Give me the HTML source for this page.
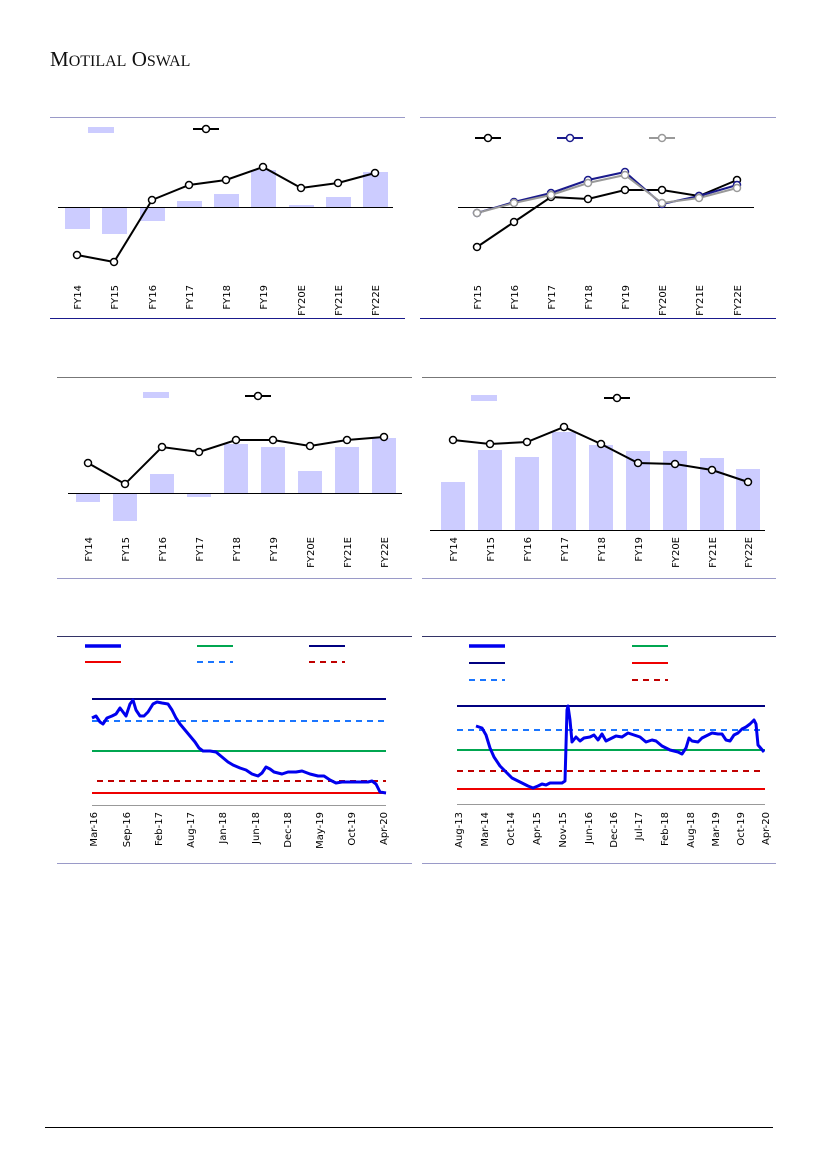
<!DOCTYPE html>
<html><head><meta charset="utf-8"><style>
html,body{margin:0;padding:0;background:#fff}
svg{display:block}
text{font-family:"DejaVu Sans","Liberation Sans",sans-serif;font-size:10px;fill:#000}
</style></head><body>
<svg width="827" height="1169" viewBox="0 0 827 1169" xmlns="http://www.w3.org/2000/svg">
<text x="50" y="66" style="font-family:'Liberation Serif',serif;font-size:21px;fill:#111">M<tspan style="font-size:16px">OTILAL</tspan> O<tspan style="font-size:16px">SWAL</tspan></text>

<g stroke-width="1">
<line x1="50" y1="117.5" x2="405" y2="117.5" stroke="#9a9ac8"/>
<line x1="50" y1="318.5" x2="405" y2="318.5" stroke="#1a1a8c"/>
<line x1="420" y1="117.5" x2="776" y2="117.5" stroke="#9a9ac8"/>
<line x1="420" y1="318.5" x2="776" y2="318.5" stroke="#1a1a8c"/>
<line x1="57" y1="377.5" x2="412" y2="377.5" stroke="#777"/>
<line x1="57" y1="578.5" x2="412" y2="578.5" stroke="#9a9ac8"/>
<line x1="422" y1="377.5" x2="776" y2="377.5" stroke="#777"/>
<line x1="422" y1="578.5" x2="776" y2="578.5" stroke="#9a9ac8"/>
<line x1="57" y1="636.5" x2="412" y2="636.5" stroke="#333366"/>
<line x1="57" y1="863.5" x2="412" y2="863.5" stroke="#9a9ac8"/>
<line x1="422" y1="636.5" x2="776" y2="636.5" stroke="#333366"/>
<line x1="422" y1="863.5" x2="776" y2="863.5" stroke="#9a9ac8"/>
<line x1="45" y1="1127.5" x2="773" y2="1127.5" stroke="#000"/>
</g>

<!-- Chart 1 -->
<g fill="#ccccff">
<rect x="88" y="127" width="26" height="6"/>
<rect x="65" y="207" width="25" height="22"/>
<rect x="102" y="207" width="25" height="27"/>
<rect x="140" y="207" width="25" height="14"/>
<rect x="177" y="201" width="25" height="6"/>
<rect x="214" y="194" width="25" height="13"/>
<rect x="251" y="170" width="25" height="37"/>
<rect x="289" y="205" width="25" height="2"/>
<rect x="326" y="197" width="25" height="10"/>
<rect x="363" y="172" width="25" height="35"/>
</g>
<line x1="58" y1="207.5" x2="393" y2="207.5" stroke="#000"/>
<g stroke="#000" stroke-width="2" fill="none">
<line x1="193" y1="129" x2="219" y2="129"/>
<polyline points="77,255 114,262 152,200 189,185 226,180 263,167 301,188 338,183 375,173"/>
</g>
<g stroke="#000" stroke-width="1.5" fill="#fff">
<circle cx="206" cy="129" r="3.5"/>
<circle cx="77" cy="255" r="3.5"/><circle cx="114" cy="262" r="3.5"/><circle cx="152" cy="200" r="3.5"/><circle cx="189" cy="185" r="3.5"/><circle cx="226" cy="180" r="3.5"/><circle cx="263" cy="167" r="3.5"/><circle cx="301" cy="188" r="3.5"/><circle cx="338" cy="183" r="3.5"/><circle cx="375" cy="173" r="3.5"/>
</g>
<g text-anchor="end">
<text transform="translate(81,285) rotate(-90)">FY14</text>
<text transform="translate(118,285) rotate(-90)">FY15</text>
<text transform="translate(156,285) rotate(-90)">FY16</text>
<text transform="translate(193,285) rotate(-90)">FY17</text>
<text transform="translate(230,285) rotate(-90)">FY18</text>
<text transform="translate(267,285) rotate(-90)">FY19</text>
<text transform="translate(305,285) rotate(-90)">FY20E</text>
<text transform="translate(342,285) rotate(-90)">FY21E</text>
<text transform="translate(379,285) rotate(-90)">FY22E</text>
</g>

<!-- Chart 2 -->
<line x1="458" y1="207.5" x2="754" y2="207.5" stroke="#000"/>
<g stroke-width="2" fill="none">
<line x1="475" y1="138" x2="501" y2="138" stroke="#000"/>
<line x1="557" y1="138" x2="583" y2="138" stroke="#1a1a8c"/>
<line x1="649" y1="138" x2="675" y2="138" stroke="#999"/>
<polyline stroke="#000" points="477,247 514,222 551,197 588,199 625,190 662,190 699,196 737,180"/>
<polyline stroke="#1a1a8c" points="477,213 514,202 551,193 588,180 625,172 662,204 699,196 737,185"/>
<polyline stroke="#999" points="477,213 514,203 551,195 588,183 625,175 662,203 699,198 737,188"/>
</g>
<g stroke-width="1.5" fill="#fff">
<g stroke="#000"><circle cx="488" cy="138" r="3.5"/>
<circle cx="477" cy="247" r="3.5"/><circle cx="514" cy="222" r="3.5"/><circle cx="551" cy="197" r="3.5"/><circle cx="588" cy="199" r="3.5"/><circle cx="625" cy="190" r="3.5"/><circle cx="662" cy="190" r="3.5"/><circle cx="699" cy="196" r="3.5"/><circle cx="737" cy="180" r="3.5"/></g>
<g stroke="#1a1a8c"><circle cx="570" cy="138" r="3.5"/>
<circle cx="477" cy="213" r="3.5"/><circle cx="514" cy="202" r="3.5"/><circle cx="551" cy="193" r="3.5"/><circle cx="588" cy="180" r="3.5"/><circle cx="625" cy="172" r="3.5"/><circle cx="662" cy="204" r="3.5"/><circle cx="699" cy="196" r="3.5"/><circle cx="737" cy="185" r="3.5"/></g>
<g stroke="#999"><circle cx="662" cy="138" r="3.5"/>
<circle cx="477" cy="213" r="3.5"/><circle cx="514" cy="203" r="3.5"/><circle cx="551" cy="195" r="3.5"/><circle cx="588" cy="183" r="3.5"/><circle cx="625" cy="175" r="3.5"/><circle cx="662" cy="203" r="3.5"/><circle cx="699" cy="198" r="3.5"/><circle cx="737" cy="188" r="3.5"/></g>
</g>
<g text-anchor="end">
<text transform="translate(481,285) rotate(-90)">FY15</text>
<text transform="translate(518,285) rotate(-90)">FY16</text>
<text transform="translate(555,285) rotate(-90)">FY17</text>
<text transform="translate(592,285) rotate(-90)">FY18</text>
<text transform="translate(629,285) rotate(-90)">FY19</text>
<text transform="translate(666,285) rotate(-90)">FY20E</text>
<text transform="translate(703,285) rotate(-90)">FY21E</text>
<text transform="translate(741,285) rotate(-90)">FY22E</text>
</g>

<!-- Chart 3 -->
<g fill="#ccccff">
<rect x="143" y="392" width="26" height="6"/>
<rect x="76" y="493" width="24" height="9"/>
<rect x="113" y="493" width="24" height="28"/>
<rect x="150" y="474" width="24" height="19"/>
<rect x="187" y="493" width="24" height="4"/>
<rect x="224" y="444" width="24" height="49"/>
<rect x="261" y="447" width="24" height="46"/>
<rect x="298" y="471" width="24" height="22"/>
<rect x="335" y="447" width="24" height="46"/>
<rect x="372" y="438" width="24" height="55"/>
</g>
<line x1="68" y1="493.5" x2="402" y2="493.5" stroke="#000"/>
<g stroke="#000" stroke-width="2" fill="none">
<line x1="245" y1="396" x2="271" y2="396"/>
<polyline points="88,463 125,484 162,447 199,452 236,440 273,440 310,446 347,440 384,437"/>
</g>
<g stroke="#000" stroke-width="1.5" fill="#fff">
<circle cx="258" cy="396" r="3.5"/>
<circle cx="88" cy="463" r="3.5"/><circle cx="125" cy="484" r="3.5"/><circle cx="162" cy="447" r="3.5"/><circle cx="199" cy="452" r="3.5"/><circle cx="236" cy="440" r="3.5"/><circle cx="273" cy="440" r="3.5"/><circle cx="310" cy="446" r="3.5"/><circle cx="347" cy="440" r="3.5"/><circle cx="384" cy="437" r="3.5"/>
</g>
<g text-anchor="end">
<text transform="translate(92,537) rotate(-90)">FY14</text>
<text transform="translate(129,537) rotate(-90)">FY15</text>
<text transform="translate(166,537) rotate(-90)">FY16</text>
<text transform="translate(203,537) rotate(-90)">FY17</text>
<text transform="translate(240,537) rotate(-90)">FY18</text>
<text transform="translate(277,537) rotate(-90)">FY19</text>
<text transform="translate(314,537) rotate(-90)">FY20E</text>
<text transform="translate(351,537) rotate(-90)">FY21E</text>
<text transform="translate(388,537) rotate(-90)">FY22E</text>
</g>

<!-- Chart 4 -->
<g fill="#ccccff">
<rect x="471" y="395" width="26" height="6"/>
<rect x="441" y="482" width="24" height="48"/>
<rect x="478" y="450" width="24" height="80"/>
<rect x="515" y="457" width="24" height="73"/>
<rect x="552" y="432" width="24" height="98"/>
<rect x="589" y="445" width="24" height="85"/>
<rect x="626" y="451" width="24" height="79"/>
<rect x="663" y="451" width="24" height="79"/>
<rect x="700" y="458" width="24" height="72"/>
<rect x="736" y="469" width="24" height="61"/>
</g>
<line x1="430" y1="530.5" x2="765" y2="530.5" stroke="#000"/>
<g stroke="#000" stroke-width="2" fill="none">
<line x1="604" y1="398" x2="630" y2="398"/>
<polyline points="453,440 490,444 527,442 564,427 601,444 638,463 675,464 712,470 748,482"/>
</g>
<g stroke="#000" stroke-width="1.5" fill="#fff">
<circle cx="617" cy="398" r="3.5"/>
<circle cx="453" cy="440" r="3.5"/><circle cx="490" cy="444" r="3.5"/><circle cx="527" cy="442" r="3.5"/><circle cx="564" cy="427" r="3.5"/><circle cx="601" cy="444" r="3.5"/><circle cx="638" cy="463" r="3.5"/><circle cx="675" cy="464" r="3.5"/><circle cx="712" cy="470" r="3.5"/><circle cx="748" cy="482" r="3.5"/>
</g>
<g text-anchor="end">
<text transform="translate(457,537) rotate(-90)">FY14</text>
<text transform="translate(494,537) rotate(-90)">FY15</text>
<text transform="translate(531,537) rotate(-90)">FY16</text>
<text transform="translate(568,537) rotate(-90)">FY17</text>
<text transform="translate(605,537) rotate(-90)">FY18</text>
<text transform="translate(642,537) rotate(-90)">FY19</text>
<text transform="translate(679,537) rotate(-90)">FY20E</text>
<text transform="translate(716,537) rotate(-90)">FY21E</text>
<text transform="translate(752,537) rotate(-90)">FY22E</text>
</g>

<!-- Chart 5 -->
<g fill="none" stroke-width="2">
<line x1="85" y1="646" x2="121" y2="646" stroke="#0000ee" stroke-width="3.5"/>
<line x1="197" y1="646" x2="233" y2="646" stroke="#00a650"/>
<line x1="309" y1="646" x2="345" y2="646" stroke="#000080"/>
<line x1="85" y1="662" x2="121" y2="662" stroke="#ee0000"/>
<line x1="197" y1="662" x2="233" y2="662" stroke="#1a75ff" stroke-dasharray="6,5"/>
<line x1="309" y1="662" x2="345" y2="662" stroke="#c00000" stroke-dasharray="6,5"/>
<line x1="92" y1="805.5" x2="386" y2="805.5" stroke="#999" stroke-width="1"/>
<line x1="92" y1="699" x2="386" y2="699" stroke="#000080"/>
<line x1="92" y1="721" x2="386" y2="721" stroke="#1a75ff" stroke-dasharray="6,5"/>
<line x1="92" y1="751" x2="386" y2="751" stroke="#00a650"/>
<line x1="97" y1="781" x2="386" y2="781" stroke="#c00000" stroke-dasharray="6,5"/>
<line x1="92" y1="793" x2="386" y2="793" stroke="#ee0000"/>
<polyline stroke="#0000ee" stroke-width="3" stroke-linejoin="round" points="92,718 96,716 100,722 103,724 107,718 112,716 116,714 120,708 123,712 126,716 130,704 133,700 136,710 140,716 144,716 148,712 153,704 157,702 162,703 168,704 172,710 176,718 180,724 185,730 190,736 195,742 199,748 203,751 210,751 216,752 222,757 228,762 233,765 240,768 246,770 252,774 258,776 262,773 266,767 270,769 274,772 282,774 288,772 296,772 302,771 310,774 318,776 324,776 330,780 336,783 342,782 350,782 360,782 368,782 372,781 376,784 380,792 386,793"/>
</g>
<g text-anchor="end">
<text transform="translate(97,812) rotate(-90)">Mar-16</text>
<text transform="translate(130,812) rotate(-90)">Sep-16</text>
<text transform="translate(162,812) rotate(-90)">Feb-17</text>
<text transform="translate(194,812) rotate(-90)">Aug-17</text>
<text transform="translate(226,812) rotate(-90)">Jan-18</text>
<text transform="translate(259,812) rotate(-90)">Jun-18</text>
<text transform="translate(291,812) rotate(-90)">Dec-18</text>
<text transform="translate(323,812) rotate(-90)">May-19</text>
<text transform="translate(355,812) rotate(-90)">Oct-19</text>
<text transform="translate(387,812) rotate(-90)">Apr-20</text>
</g>

<!-- Chart 6 -->
<g fill="none" stroke-width="2">
<line x1="469" y1="646" x2="505" y2="646" stroke="#0000ee" stroke-width="3.5"/>
<line x1="632" y1="646" x2="668" y2="646" stroke="#00a650"/>
<line x1="469" y1="663" x2="505" y2="663" stroke="#000080"/>
<line x1="632" y1="663" x2="668" y2="663" stroke="#ee0000"/>
<line x1="469" y1="680" x2="505" y2="680" stroke="#1a75ff" stroke-dasharray="6,5"/>
<line x1="632" y1="680" x2="668" y2="680" stroke="#c00000" stroke-dasharray="6,5"/>
<line x1="457" y1="804.5" x2="765" y2="804.5" stroke="#999" stroke-width="1"/>
<line x1="457" y1="706" x2="765" y2="706" stroke="#000080"/>
<line x1="457" y1="730" x2="765" y2="730" stroke="#1a75ff" stroke-dasharray="6,5"/>
<line x1="457" y1="750" x2="765" y2="750" stroke="#00a650"/>
<line x1="457" y1="771" x2="765" y2="771" stroke="#c00000" stroke-dasharray="6,5"/>
<line x1="457" y1="789" x2="765" y2="789" stroke="#ee0000"/>
<polyline stroke="#0000ee" stroke-width="3" stroke-linejoin="round" points="476,726 482,728 486,735 490,748 494,757 500,766 506,772 512,778 520,782 528,786 533,788 538,786 542,784 546,785 550,783 556,783 562,783 565,781 567,710 568,706 570,720 572,742 576,737 580,741 584,738 590,737 594,735 598,740 602,734 606,741 612,738 616,736 622,737 628,733 634,735 640,737 646,742 652,740 656,741 662,746 670,750 678,752 682,754 686,748 689,738 692,741 698,742 702,738 708,735 712,733 718,734 722,734 726,740 730,741 734,735 738,733 742,729 746,727 750,724 754,720 756,724 758,745 764,752"/>
</g>
<g text-anchor="end">
<text transform="translate(462,812) rotate(-90)">Aug-13</text>
<text transform="translate(488,812) rotate(-90)">Mar-14</text>
<text transform="translate(514,812) rotate(-90)">Oct-14</text>
<text transform="translate(540,812) rotate(-90)">Apr-15</text>
<text transform="translate(566,812) rotate(-90)">Nov-15</text>
<text transform="translate(592,812) rotate(-90)">Jun-16</text>
<text transform="translate(617,812) rotate(-90)">Dec-16</text>
<text transform="translate(642,812) rotate(-90)">Jul-17</text>
<text transform="translate(668,812) rotate(-90)">Feb-18</text>
<text transform="translate(694,812) rotate(-90)">Aug-18</text>
<text transform="translate(719,812) rotate(-90)">Mar-19</text>
<text transform="translate(744,812) rotate(-90)">Oct-19</text>
<text transform="translate(769,812) rotate(-90)">Apr-20</text>
</g>
</svg>
</body></html>
